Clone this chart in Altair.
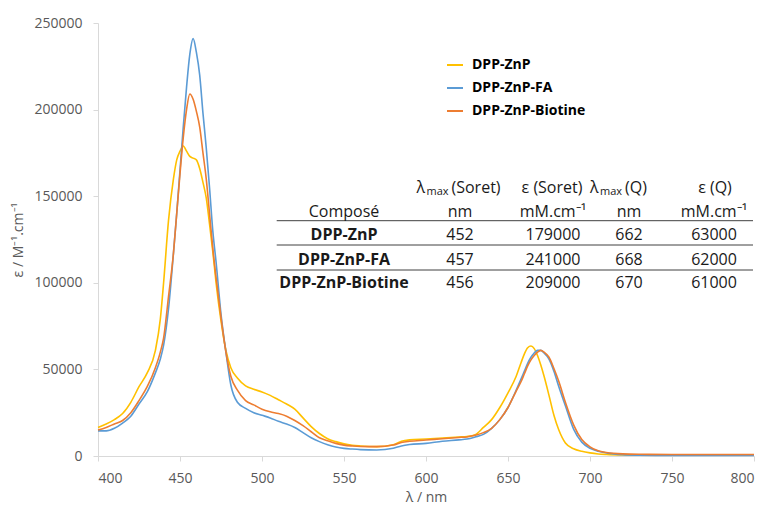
import altair as alt
import pandas as pd

# ---------------- data (epsilon in units of 1000 M-1.cm-1) ----------------
wavelength = [400, 405, 410, 415, 420, 425, 430, 435, 438, 440,
              443, 446, 448, 450, 452, 454, 456, 458, 460,
              462, 464, 466, 468, 470, 472, 475, 478, 481,
              485, 490, 495, 500, 505, 510, 515, 520, 525,
              530, 535, 540, 545, 550, 555, 560, 570, 580,
              585, 590, 600, 610, 620, 625, 630, 635, 640,
              645, 650, 655, 658, 660, 662, 664, 666, 668,
              670, 672, 675, 678, 681, 685, 690, 695, 700,
              705, 710, 720, 730, 750, 775, 800]

eps_znp = [16.5, 18.5, 21, 24.5, 31, 40, 48, 61, 79, 100,
           136, 160, 171, 176, 179, 176, 173, 172, 171,
           166, 158, 149, 134, 118, 100, 78, 61, 51,
           45, 40.5, 38.5, 37, 35, 32.5, 30, 27, 22,
           17, 13, 10, 8.3, 7, 6.2, 5.8, 5.4, 6.5,
           8.5, 9.3, 9.8, 10.4, 11, 11.3, 12.3, 16.5, 21,
           28, 36.5, 46, 54, 59, 62.5, 63.5, 62, 58,
           52.5, 46, 35, 23.5, 15, 7.5, 4.2, 2.7, 1.8,
           1.2, 0.9, 0.6, 0.5, 0.5, 0.5, 0.5]

eps_fa = [14.5, 14.5, 16, 19, 23, 30, 37, 48, 56, 64,
          85, 117, 140, 165, 190, 213, 232, 241, 233,
          220, 198, 178, 155, 130, 112, 82, 60, 41,
          31, 27.5, 25, 23.5, 22, 20, 18.5, 16.5, 13.5,
          10.5, 8.3, 6.5, 5.2, 4.4, 4, 3.7, 3.5, 4.5,
          5.8, 6.6, 7.3, 8.5, 9.3, 9.8, 11, 12.5, 16,
          21, 28, 38, 44.5, 49, 53.5, 57, 59.5, 61,
          61, 59.5, 56, 49, 40, 29, 15.5, 8, 4.5,
          2.8, 1.8, 0.8, 0.5, 0.3, 0.3, 0.3]

eps_bio = [15, 16.5, 18.5, 20.5, 25, 32, 40, 51, 60, 68,
           92, 117, 140, 163, 184, 200, 209, 206, 199,
           190, 175, 160, 140, 120, 103, 80, 60, 46,
           38, 32, 29.5, 27, 25.5, 24.5, 23, 20.5, 17.5,
           14, 10.5, 8.8, 7.3, 6.3, 5.8, 5.5, 5.4, 6.3,
           7.8, 8.5, 9.2, 10, 10.7, 11, 12, 13.5, 16,
           21, 28, 37.5, 43, 47.5, 52, 55.5, 58, 60,
           61, 60, 57, 50.5, 43, 31, 18, 9.5, 5.3,
           3, 2, 1.2, 1, 0.9, 0.9, 0.9]

series_names = ["DPP-ZnP", "DPP-ZnP-FA", "DPP-ZnP-Biotine"]
series_colors = ["#FFC000", "#5B9BD5", "#ED7D31"]

x_ticks = [400, 450, 500, 550, 600, 650, 700, 750, 800]
y_ticks = [0, 50000, 100000, 150000, 200000, 250000]

# table content
tab_compounds = ["DPP-ZnP", "DPP-ZnP-FA", "DPP-ZnP-Biotine"]
tab_lmax_soret = ["452", "457", "456"]
tab_eps_soret = ["179000", "241000", "209000"]
tab_lmax_q = ["662", "668", "670"]
tab_eps_q = ["63000", "62000", "61000"]
tab_header2 = ["Composé", "nm", "mM.cm⁻¹", "nm", "mM.cm⁻¹"]

# ---------------- layout ----------------
W, H = 656, 433
XMIN, XMAX, YMAX = 400, 800, 250000
FONT = "Open Sans"


def dxp(px):
    return XMIN + px * (XMAX - XMIN) / W


def dyp(py):
    return (H - py) / H * YMAX


rows = []
for name, vals in zip(series_names, [eps_znp, eps_fa, eps_bio]):
    for w, v in zip(wavelength, vals):
        rows.append({"wl": w, "eps": v * 1000, "series": name})
df = pd.DataFrame(rows)

x_scale = alt.Scale(domain=[XMIN, XMAX], nice=False, zero=False)
y_scale = alt.Scale(domain=[0, YMAX], nice=False)
x_axis = alt.Axis(title="λ / nm", values=x_ticks, format="d",
                  labelPadding=10, titlePadding=5)
y_axis = alt.Axis(title="ε / M⁻¹.cm⁻¹", values=y_ticks, format="d",
                  labelPadding=11, titlePadding=8)
X = alt.X("wl:Q", scale=x_scale, axis=x_axis)
Y = alt.Y("eps:Q", scale=y_scale, axis=y_axis)

lines = alt.Chart(df).mark_line(strokeWidth=1.6, interpolate="monotone").encode(
    x=X, y=Y,
    color=alt.Color("series:N",
                    scale=alt.Scale(domain=series_names, range=series_colors),
                    legend=alt.Legend(title=None, orient="none",
                                      legendX=348, legendY=33,
                                      symbolType="stroke", symbolSize=256,
                                      symbolStrokeWidth=2,
                                      labelFont=FONT, labelFontSize=14,
                                      labelFontWeight="bold", labelColor="#000000",
                                      rowPadding=7, labelOffset=8, padding=0)),
    detail="series:N",
)

# table cells (pixel positions relative to the plot area -> data coords)
col_x = [246, 362, 455, 531, 616]
row_y_h1, row_y_h2 = 165, 188.5
row_y = [212, 237, 260]
rule_y = [197.7, 222, 247]
rule_x0, rule_x1 = 178.7, 655

normal_cells = []
for j, t in enumerate(tab_header2):
    normal_cells.append({"t": t, "wl": dxp(col_x[j]), "eps": dyp(row_y_h2)})
normal_cells.append({"t": "ε (Soret)", "wl": dxp(454), "eps": dyp(row_y_h1)})
normal_cells.append({"t": "ε (Q)", "wl": dxp(617), "eps": dyp(row_y_h1)})
for i in range(3):
    for j, col in enumerate([tab_lmax_soret, tab_eps_soret, tab_lmax_q, tab_eps_q]):
        normal_cells.append({"t": col[i], "wl": dxp(col_x[j + 1]), "eps": dyp(row_y[i])})
bold_cells = [{"t": c, "wl": dxp(col_x[0]), "eps": dyp(row_y[i])}
              for i, c in enumerate(tab_compounds)]
lam_cells = [
    {"t": "λ", "wl": dxp(318.5), "eps": dyp(row_y_h1)},
    {"t": "(Soret)", "wl": dxp(353.5), "eps": dyp(row_y_h1)},
    {"t": "λ", "wl": dxp(492), "eps": dyp(row_y_h1)},
    {"t": "(Q)", "wl": dxp(527), "eps": dyp(row_y_h1)},
]
sub_cells = [
    {"t": "max", "wl": dxp(328.5), "eps": dyp(row_y_h1 + 4)},
    {"t": "max", "wl": dxp(502), "eps": dyp(row_y_h1 + 4)},
]
rule_cells = [{"wl": dxp(rule_x0), "wl2": dxp(rule_x1), "eps": dyp(y)} for y in rule_y]

TXT = "#1a1a1a"


def text_layer(cells, **kw):
    return alt.Chart(pd.DataFrame(cells)).mark_text(
        font=FONT, color=TXT, baseline="middle", **kw).encode(
        x=X, y=Y, text="t:N")


t_normal = text_layer(normal_cells, fontSize=16, align="center")
t_bold = text_layer(bold_cells, fontSize=16, align="center", fontWeight="bold")
t_lam = text_layer(lam_cells, fontSize=16, align="left")
t_sub = text_layer(sub_cells, fontSize=11, align="left")

rules = alt.Chart(pd.DataFrame(rule_cells)).mark_rule(color="#404040", strokeWidth=1).encode(
    x=X, x2="wl2:Q", y=Y,
)

chart = alt.layer(lines, rules, t_normal, t_bold, t_lam, t_sub).properties(
    width=W, height=H,
    autosize=alt.AutoSizeParams(type="none"),
    padding={"left": 90, "top": 15, "right": 7, "bottom": 52},
).configure_axis(
    grid=False,
    domainColor="#d9d9d9", tickColor="#d9d9d9", tickSize=5,
    labelColor="#595959", labelFont=FONT, labelFontSize=14,
    titleColor="#595959", titleFont=FONT, titleFontSize=14, titleFontWeight="normal",
).configure_view(stroke=None)

chart.save("out.html", embed_options={"renderer": "svg", "actions": False})
